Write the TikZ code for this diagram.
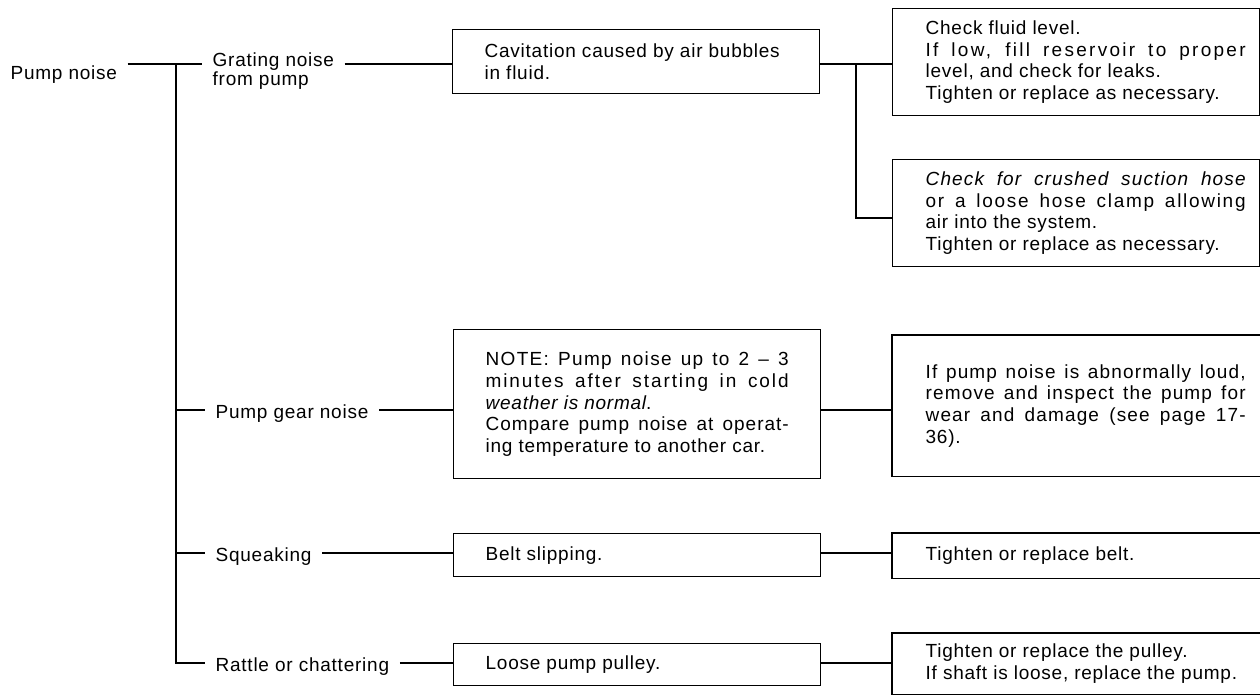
\documentclass[tikz,border=0pt]{standalone}
\usepackage{fontspec}
\setmainfont{Liberation Sans}[LetterSpace=4]
\newcommand{\jst}[3]{\makebox[#1pt][s]{\addfontfeature{LetterSpace=#2}#3}}
\newcommand{\rtext}[1]{\hspace*{19pt}\parbox[c]{320pt}{\raggedright #1}}
\newcommand{\ltext}[1]{\parbox[c]{303pt}{\raggedright #1}}
\begin{document}
\begin{tikzpicture}[x=1pt,y=-1pt,
  every path/.style={line width=1.3pt},
  txtfont/.style={font=\fontsize{19}{21.7}\selectfont},
  lbl/.style={txtfont, inner xsep=10pt, inner ysep=0pt, anchor=west, text height=16pt, text depth=0pt},
  lbltwo/.style={font=\fontsize{19}{19}\selectfont, inner xsep=10pt, inner ysep=0pt, align=left},
  lbox/.style={txtfont, draw, line width=1.3pt, anchor=north west, inner xsep=32pt, inner ysep=0pt},
  rbox/.style={txtfont, draw, line width=1.3pt, anchor=north west, inner xsep=14pt, inner ysep=0pt},
  ropen/.style={rbox, draw=none}
]
\useasboundingbox (0,0) rectangle (1260,696);

% left labels
\node[lbl] (pn) at (0,71) {Pump noise};
\node[lbltwo, anchor=north west] (gn) at (202,52) {Grating noise\\from pump};
\node[lbl] (gear) at (205,410) {Pump gear noise};
\node[lbl] (sq) at (205,553) {Squeaking};
\node[lbl] (rat) at (205,663) {Rattle or chattering};

% middle boxes
\node[lbox, minimum height=64pt] (cav) at (452,29) {\ltext{Cavitation caused by air bubbles\\in fluid.}};
\node[lbox, minimum height=149pt] (note) at (453,329) {\ltext{\jst{303}{7}{NOTE: Pump noise up to 2 -- 3}\\\jst{303}{10}{minutes after starting in cold}\\\textit{weather is normal}.\\\jst{303}{5}{Compare pump noise at operat-}\\ing temperature to another car.}};
\node[lbox, minimum height=43pt] (belt) at (453,533) {\ltext{Belt slipping.}};
\node[lbox, minimum height=42pt] (loose) at (453,643) {\ltext{Loose pump pulley.}};

% right boxes
\node[rbox, minimum height=107pt] (r1) at (892,8) {\rtext{Check fluid level.\\\jst{320}{12}{If low, fill reservoir to proper}\\level, and check for leaks.\\Tighten or replace as necessary.}};
\node[rbox, minimum height=107pt] (r2) at (892,159) {\rtext{\textit{\jst{320}{6}{Check for crushed suction hose}}\\\jst{320}{9}{or a loose hose clamp allowing}\\air into the system.\\Tighten or replace as necessary.}};
\node[ropen, minimum height=140pt] (r3) at (892,335) {\rtext{\jst{320}{6}{If pump noise is abnormally loud,}\\\jst{320}{6}{remove and inspect the pump for}\\\jst{320}{6}{wear and damage (see page 17-}\\36).}};
\node[ropen, minimum height=44pt] (r4) at (892,533) {\rtext{Tighten or replace belt.}};
\node[ropen, minimum height=60pt] (r5) at (892,633) {\rtext{Tighten or replace the pulley.\\If shaft is loose, replace the pump.}};
\foreach \b in {r3,r4,r5}
  \draw (\b.north east) -- (\b.north west) -- (\b.south west) -- (\b.south east);

% trunk
\coordinate (t0) at (176,64);
\coordinate (t3) at (176,663);
\draw (pn.east |- t0) -- (t0) -- (gn.west |- t0);
\draw (t0) -- (t3) -- (rat.west);
\draw (gear.west -| t0) -- (gear.west);
\draw (sq.west -| t0) -- (sq.west);

% label to box
\draw (gn.north east |- t0) -- (t0 -| cav.west);
\draw (gear.east) -- (gear.east -| note.west);
\draw (sq.east) -- (sq.east -| belt.west);
\draw (rat.east) -- (rat.east -| loose.west);

% box to right boxes
\coordinate (jr) at (856,64);
\coordinate (jr2) at (856,218);
\draw (cav.east |- jr) -- (jr -| r1.west);
\draw (jr) -- (jr2) -- (jr2 -| r2.west);
\draw (note.east |- gear.east) -- (gear.east -| r3.west);
\draw (belt.east |- sq.east) -- (sq.east -| r4.west);
\draw (loose.east |- rat.east) -- (rat.east -| r5.west);
\end{tikzpicture}
\end{document}
